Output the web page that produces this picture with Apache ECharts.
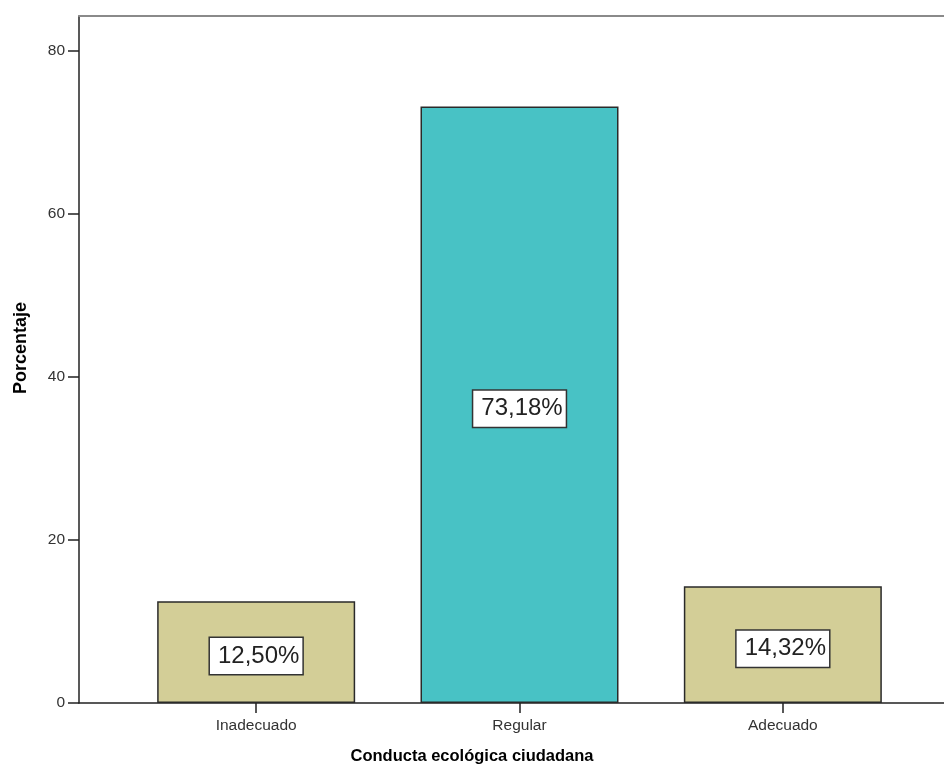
<!DOCTYPE html>
<html>
<head>
<meta charset="utf-8">
<script src="https://cdn.jsdelivr.net/npm/echarts@6/dist/echarts.min.js"></script>
<style>html,body{margin:0;padding:0;background:#fff}#c{width:944px;height:773px}</style>
</head>
<body>
<div id="c"></div>
<script>
const categories = ['Inadecuado', 'Regular', 'Adecuado'];
const values = [12.50, 73.18, 14.32];
const labels = ['12,50%', '73,18%', '14,32%'];
const barColors = ['#D3CE97', '#48C2C5', '#D3CE97'];
const yTicks = [0, 20, 40, 60, 80];
const xTitle = 'Conducta ecológica ciudadana';
const yTitle = 'Porcentaje';

const yMax = 84.3;
const chart = echarts.init(document.getElementById('c'), null, {renderer: 'canvas'});
const font = '"Liberation Sans", Arial, sans-serif';

chart.setOption({
  animation: false,
  backgroundColor: '#fff',
  grid: [
    {left: 79, top: 16, right: 0, bottom: 70},
    {left: 124.5, top: 16, width: 790, bottom: 70}
  ],
  xAxis: [
    {gridIndex: 0, type: 'value', min: 0, max: 1, axisLine: {show: true, onZero: false, lineStyle: {color: '#222', width: 1.5}}, axisTick: {show: false}, axisLabel: {show: false}, splitLine: {show: false}},
    {gridIndex: 1, type: 'category', data: categories, boundaryGap: true,
      axisLine: {show: false}, axisTick: {show: true, alignWithLabel: true, length: 10, lineStyle: {color: '#222', width: 1.5}},
      axisLabel: {color: '#333', fontSize: 15.5, fontFamily: font, margin: 15}, splitLine: {show: false}},
    {gridIndex: 0, type: 'value', position: 'top', min: 0, max: 1, axisLine: {show: true, onZero: false, lineStyle: {color: '#8a8a8a', width: 2}}, axisTick: {show: false}, axisLabel: {show: false}, splitLine: {show: false}}
  ],
  yAxis: [
    {gridIndex: 0, type: 'value', min: 0, max: yMax, interval: 20,
      axisLine: {show: true, lineStyle: {color: '#222', width: 1.5}},
      axisTick: {show: true, length: 11, inside: false, lineStyle: {color: '#222', width: 1.5}},
      axisLabel: {color: '#333', fontSize: 15.5, fontFamily: font, margin: 14, showMaxLabel: false,
        formatter: v => yTicks.includes(v) ? String(v) : ''},
      splitLine: {show: false}},
    {gridIndex: 1, type: 'value', min: 0, max: yMax, show: false}
  ],
  series: [{
    type: 'bar',
    xAxisIndex: 1, yAxisIndex: 1,
    barWidth: 198,
    data: values.map((v, i) => ({value: v, itemStyle: {color: barColors[i], borderColor: '#2a2a2a', borderWidth: 1.5}})),
    label: {
      show: true, position: 'inside', offset: [0, 4],
      formatter: p => labels[p.dataIndex],
      color: '#222', fontSize: 24, fontFamily: font,
      backgroundColor: '#fff', borderColor: '#333', borderWidth: 1.5,
      padding: [7, 3, 5, 8]
    }
  }],
  graphic: [{
    type: 'text', left: 'center', top: 748,
    style: {text: xTitle, fill: '#000', font: 'bold 16.5px ' + font}
  }, {
    type: 'text', x: 21, y: 348, rotation: Math.PI / 2,
    style: {text: yTitle, fill: '#000', font: 'bold 18px ' + font, align: 'center', verticalAlign: 'middle'}
  }]
});
</script>
</body>
</html>
